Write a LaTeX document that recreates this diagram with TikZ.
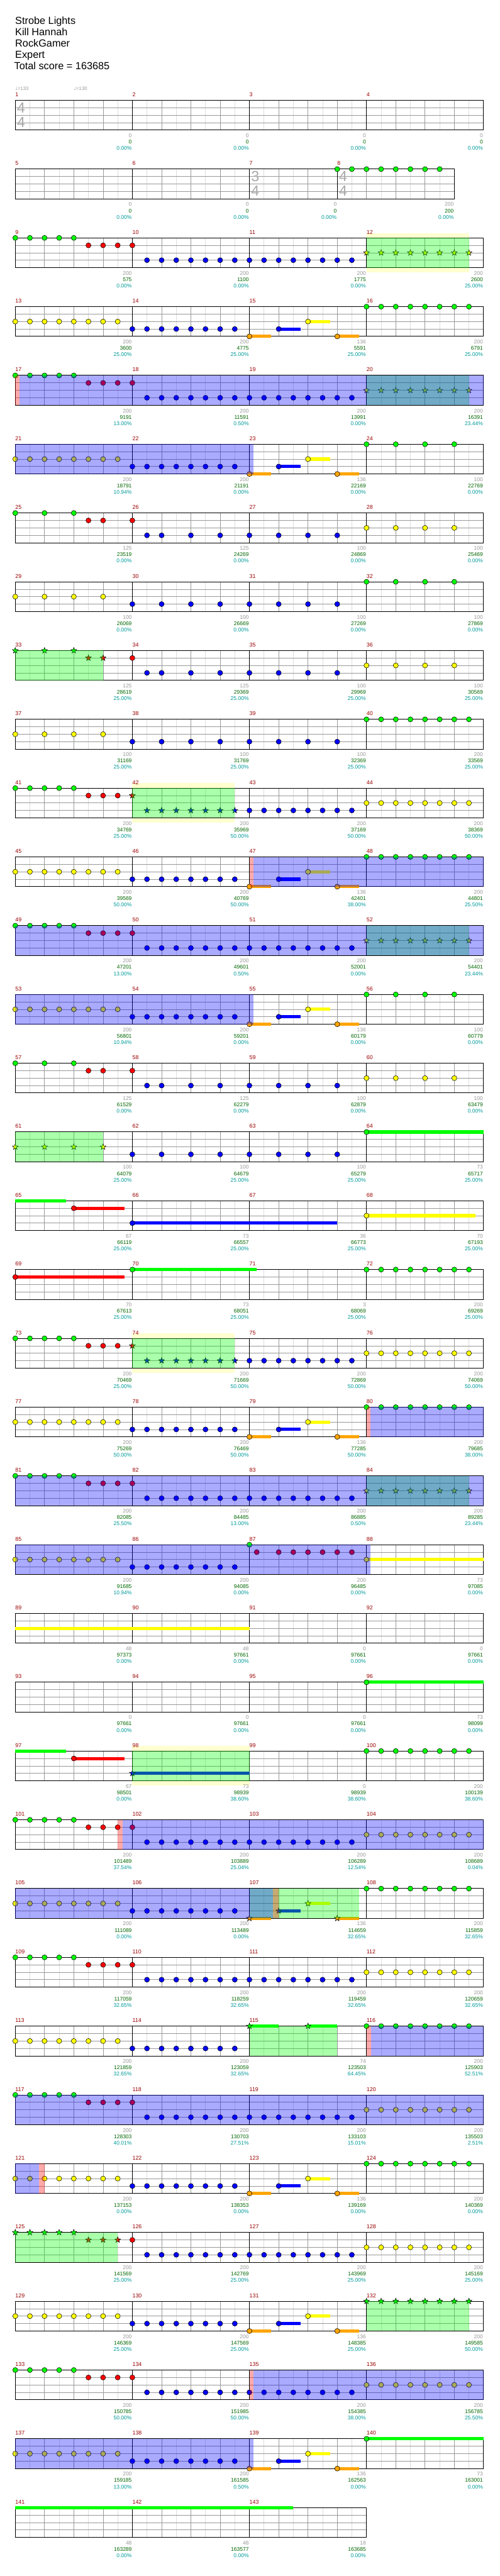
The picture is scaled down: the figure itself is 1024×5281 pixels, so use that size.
\documentclass[tikz,border=0pt]{standalone}
\usepackage{fontspec}
\setmainfont{Liberation Sans}
\newfontfamily\notefont{DejaVu Sans}
\usepackage{tikz}
\definecolor{lane0}{HTML}{00FF00}
\definecolor{lane1}{HTML}{FF0000}
\definecolor{lane2}{HTML}{FFFF00}
\definecolor{lane3}{HTML}{0000FF}
\definecolor{lane4}{HTML}{FFA500}
\definecolor{barred}{HTML}{990000}
\definecolor{ptgrey}{HTML}{999999}
\definecolor{scoregreen}{HTML}{006600}
\definecolor{pcteal}{HTML}{009999}
\definecolor{halfgrey}{HTML}{DDDDDD}
\definecolor{beatgrey}{HTML}{999999}
\definecolor{sigrey}{HTML}{AAAAAA}
\definecolor{haloyellow}{HTML}{FFFFD0}

% staff: beats, bar positions
\newcommand{\staff}[2]{%
  \fill[white] (0,0) rectangle ({60*#1},61);
  \foreach \i in {1,...,#1} \draw[halfline] ({60*\i-30},0) -- ++(0,61);
  \foreach \i in {1,...,#1} \draw[beatline] ({60*\i},0) -- ++(0,61);
  \foreach \j in {1,2,3} \draw[beatline] (0,{15.25*\j}) -- ({60*#1},{15.25*\j});
  \foreach \i in {#2} \draw[barline] ({60*\i},0) -- ++(0,61);
  \draw[staffframe] (0,0) rectangle ({60*#1},61);}
\newcommand{\mlabels}[2]{\foreach \b [count=\c] in {#2} {\pgfmathtruncatemacro\mm{#1+\c-1}\node[barno] (m\mm) at ({60*\b},-11.7) {\mm};}}
\newcommand{\stdrow}[1]{\staff{16}{4,8,12}\mlabels{#1}{0,4,8,12}}
% notes
\newcommand{\gem}[2]{\filldraw[gemline, fill=lane#1] ({60*#2},{15.25*#1}) circle[radius=5.2];}
\newcommand{\gems}[2]{\foreach \b in {#2} {\gem{#1}{\b}}}
\newcommand{\stargem}[2]{\filldraw[gemline, fill=lane#1, shift={({60*#2},{15.25*#1})}]
  (270:6.3) -- (306:2.6) -- (342:6.3) -- (18:2.6) -- (54:6.3) -- (90:2.6) -- (126:6.3) -- (162:2.6) -- (198:6.3) -- (234:2.6) -- cycle;}
\newcommand{\stars}[2]{\foreach \b in {#2} {\stargem{#1}{\b}}}
\newcommand{\tail}[3]{\draw[tailbar, lane#1] ({60*#2},{15.25*#1}) -- ({60*#3},{15.25*#1});}
% zones
\newcommand{\odzone}[2]{\fill[odfill] ({60*#1},0) rectangle ({60*#2},61);}
\newcommand{\spzone}[2]{\fill[spfill] ({60*#1},0) rectangle ({60*#2},61);}
\newcommand{\actzone}[2]{\fill[actfill] ({60*#1},0) rectangle ({60*#2},61);}
\newcommand{\halozone}[2]{\fill[halofill] ({60*#1},-10) rectangle ({60*#2},71);}
% scores under a bar
\newcommand{\scoreat}[5]{%
  \node[ptsnum] (pts#1) at ({60*#2-1},72.3) {#3};
  \node[totnum] (tot#1) at ({60*#2-1},85.3) {#4};
  \node[pctnum] (pct#1) at ({60*#2-1},98.3) {#5\%};}
\newcommand{\scores}[2]{\foreach \g/\s/\p [count=\c] in {#2} {\pgfmathtruncatemacro\mm{#1+\c-1}\scoreat{\mm}{4*\c}{\g}{\s}{\p}}}
% repeated riffs
\newcommand{\riffA}{\gems{0}{0,0.5,...,2}\gems{1}{2.5,3,3.5,4}\gems{3}{4.5,5,...,11.5}}
\newcommand{\riffB}{\gems{2}{0,0.5,...,3.5}\gems{3}{4,4.5,...,7.5}}
\newcommand{\riffC}{\tail{4}{8}{8.75}\gem{4}{8}\tail{3}{9}{9.75}\gem{3}{9}\tail{2}{10}{10.75}\gem{2}{10}\tail{4}{11}{11.75}\gem{4}{11}}
\newcommand{\riffCstar}{\tail{4}{8}{8.75}\stars{4}{8}\tail{3}{9}{9.75}\stars{3}{9}\tail{2}{10}{10.75}\stars{2}{10}\tail{4}{11}{11.75}\stars{4}{11}}
\newcommand{\riffD}{\gems{0}{0,0.5,...,2}\gems{1}{2.5,3,3.5}\stars{1}{4}\stars{3}{4.5,5,...,7.5}\gems{3}{8,8.5,...,11.5}\gems{2}{12,12.5,...,15.5}}
\newcommand{\riffE}{\gems{0}{0,1,2}\gems{1}{2.5,3,4}\gem{3}{4.5}\gems{3}{5,...,11}\gems{2}{12,...,15}}

\begin{document}
\begin{tikzpicture}[x=1pt, y=-1pt,
  chartrow/.style={shift={(31.3,{205.7+141*#1})}},
  halfline/.style={draw=halfgrey, line width=1pt},
  beatline/.style={draw=beatgrey, line width=1pt},
  barline/.style={draw=black, line width=1pt},
  staffframe/.style={draw=black, line width=1.3pt},
  gemline/.style={draw=black, line width=0.7pt},
  tailbar/.style={line width=6.5pt},
  odfill/.style={fill=lane3, fill opacity=0.333},
  spfill/.style={fill=lane0, fill opacity=0.333},
  actfill/.style={fill=lane1, fill opacity=0.333},
  halofill/.style={fill=haloyellow},
  barno/.style={font=\fontsize{11.5}{13}\selectfont, text=barred, anchor=west, inner sep=0pt},
  ptsnum/.style={font=\fontsize{11}{13}\selectfont, text=ptgrey, anchor=east, inner sep=0pt},
  totnum/.style={font=\fontsize{11}{13}\selectfont, text=scoregreen, anchor=east, inner sep=0pt},
  pctnum/.style={font=\fontsize{11}{13}\selectfont, text=pcteal, anchor=east, inner sep=0pt},
  tsig/.style={font=\fontsize{30}{32}\selectfont, text=sigrey, inner sep=0pt},
  tempo/.style={font=\fontsize{10}{12}\selectfont, text=ptgrey, anchor=base west, inner sep=0pt},
  titletext/.style={font=\fontsize{21}{23}\selectfont, anchor=base west, inner sep=0pt}
]
\fill[white] (0,0) rectangle (1024,5281);
\useasboundingbox (0,0) rectangle (1024,5281);

\node[titletext] (song) at (31,50) {Strobe Lights};
\node[titletext] (artist) at (31,73) {Kill Hannah};
\node[titletext] (charter) at (31,96) {RockGamer};
\node[titletext] (level) at (31,119) {Expert};
\node[titletext] (total) at (29,142) {Total score = 163685};

\begin{scope}[chartrow=0]
  \stdrow{1}
  \node[tsig] (sig1a) at (12,15) {4};
  \node[tsig] (sig1b) at (12,45) {4};
  \node[tempo] (bpm1) at (0,-20.2) {{\notefont ♩}=133};
  \node[tempo] (bpm2) at (120,-20.2) {{\notefont ♩}=130};
  \scores{1}{0/0/0.00,0/0/0.00,0/0/0.00,0/0/0.00}
\end{scope}

\begin{scope}[chartrow=1]
  \staff{15}{4,8,11}
  \mlabels{5}{0,4,8,11}
  \node[tsig] (sig7a) at (492,15) {3};
  \node[tsig] (sig7b) at (492,45) {4};
  \node[tsig] (sig8a) at (672,15) {4};
  \node[tsig] (sig8b) at (672,45) {4};
  \gems{0}{11,11.5,...,14.5}
  \scoreat{5}{4}{0}{0}{0.00}
  \scoreat{6}{8}{0}{0}{0.00}
  \scoreat{7}{11}{0}{0}{0.00}
  \scoreat{8}{15}{200}{200}{0.00}
\end{scope}

\begin{scope}[chartrow=2]
  \halozone{12}{15.5}
  \stdrow{9}
  \riffA \stars{2}{12,12.5,...,15.5}
  \spzone{12}{15.5}
  \scores{9}{200/575/0.00,200/1100/0.00,200/1775/0.00,200/2600/25.00}
\end{scope}

\begin{scope}[chartrow=3]
  \stdrow{13}
  \riffB \riffC \gems{0}{12,12.5,...,15.5}
  \scores{13}{200/3600/25.00,200/4775/25.00,136/5591/25.00,200/6791/25.00}
\end{scope}

\begin{scope}[chartrow=4]
  \stdrow{17}
  \riffA \stars{2}{12,12.5,...,15.5}
  \spzone{12}{15.5} \actzone{0}{0.145} \odzone{0.145}{16}
  \scores{17}{200/9191/13.00,200/11591/0.50,200/13991/0.00,200/16391/23.44}
\end{scope}

\begin{scope}[chartrow=5]
  \stdrow{21}
  \riffB \riffC \gems{0}{12,...,15}
  \odzone{0}{8.13}
  \scores{21}{200/18791/10.94,200/21191/0.00,136/22169/0.00,100/22769/0.00}
\end{scope}

\begin{scope}[chartrow=6]
  \stdrow{25}
  \riffE
  \scores{25}{125/23519/0.00,125/24269/0.00,100/24869/0.00,100/25469/0.00}
\end{scope}

\begin{scope}[chartrow=7]
  \stdrow{29}
  \gems{2}{0,...,3} \gems{3}{4,...,11} \gems{0}{12,...,15}
  \scores{29}{100/26069/0.00,100/26669/0.00,100/27269/0.00,100/27869/0.00}
\end{scope}

\begin{scope}[chartrow=8]
  \stdrow{33}
  \stars{0}{0,1,2} \stars{1}{2.5,3} \gem{1}{4} \gem{3}{4.5} \gems{3}{5,...,11} \gems{2}{12,...,15}
  \spzone{0}{3}
  \scores{33}{125/28619/25.00,125/29369/25.00,100/29969/25.00,100/30569/25.00}
\end{scope}

\begin{scope}[chartrow=9]
  \stdrow{37}
  \gems{2}{0,...,3} \gems{3}{4,...,11} \gems{0}{12,12.5,...,15.5}
  \scores{37}{100/31169/25.00,100/31769/25.00,100/32369/25.00,200/33569/25.00}
\end{scope}

\begin{scope}[chartrow=10]
  \halozone{4}{7.5}
  \stdrow{41}
  \riffD
  \spzone{4}{7.5}
  \scores{41}{200/34769/25.00,200/35969/50.00,200/37169/50.00,200/38369/50.00}
\end{scope}

\begin{scope}[chartrow=11]
  \stdrow{45}
  \riffB \riffC \gems{0}{12,12.5,...,15.5}
  \actzone{8}{8.145} \odzone{8.145}{16}
  \scores{45}{200/39569/50.00,200/40769/50.00,136/42401/38.00,200/44801/25.50}
\end{scope}

\begin{scope}[chartrow=12]
  \stdrow{49}
  \riffA \stars{2}{12,12.5,...,15.5}
  \spzone{12}{15.5} \odzone{0}{16}
  \scores{49}{200/47201/13.00,200/49601/0.50,200/52001/0.00,200/54401/23.44}
\end{scope}

\begin{scope}[chartrow=13]
  \stdrow{53}
  \riffB \riffC \gems{0}{12,...,15}
  \odzone{0}{8.145}
  \scores{53}{200/56801/10.94,200/59201/0.00,136/60179/0.00,100/60779/0.00}
\end{scope}

\begin{scope}[chartrow=14]
  \stdrow{57}
  \riffE
  \scores{57}{125/61529/0.00,125/62279/0.00,100/62879/0.00,100/63479/0.00}
\end{scope}

\begin{scope}[chartrow=15]
  \stdrow{61}
  \stars{2}{0,...,3} \gems{3}{4,...,11} \tail{0}{12}{16} \gem{0}{12}
  \spzone{0}{3}
  \scores{61}{100/64079/25.00,100/64679/25.00,100/65279/25.00,73/65717/25.00}
\end{scope}

\begin{scope}[chartrow=16]
  \stdrow{65}
  \tail{0}{0}{1.73} \tail{1}{2}{3.73} \gem{1}{2} \tail{3}{4}{11} \gem{3}{4} \tail{2}{12}{15.73} \gem{2}{12}
  \scores{65}{67/66119/25.00,73/66557/25.00,36/66773/25.00,70/67193/25.00}
\end{scope}

\begin{scope}[chartrow=17]
  \stdrow{69}
  \tail{1}{0}{3.73} \gem{1}{0} \tail{0}{4}{8.24} \gem{0}{4} \gems{0}{12,12.5,...,15.5}
  \scores{69}{70/67613/25.00,73/68051/25.00,3/68069/25.00,200/69269/25.00}
\end{scope}

\begin{scope}[chartrow=18]
  \halozone{4}{7.5}
  \stdrow{73}
  \riffD
  \spzone{4}{7.5}
  \scores{73}{200/70469/25.00,200/71669/50.00,200/72869/50.00,200/74069/50.00}
\end{scope}

\begin{scope}[chartrow=19]
  \stdrow{77}
  \riffB \riffC \gems{0}{12,12.5,...,15.5}
  \actzone{12}{12.14} \odzone{12.14}{16}
  \scores{77}{200/75269/50.00,200/76469/50.00,136/77285/50.00,200/79685/38.00}
\end{scope}

\begin{scope}[chartrow=20]
  \stdrow{81}
  \riffA \stars{2}{12,12.5,...,15.5}
  \spzone{12}{15.5} \odzone{0}{16}
  \scores{81}{200/82085/25.50,200/84485/13.00,200/86885/0.50,200/89285/23.44}
\end{scope}

\begin{scope}[chartrow=21]
  \stdrow{85}
  \riffB \gem{0}{8} \gem{1}{8.25} \gems{1}{9,9.5,...,11.5} \tail{2}{12}{16} \gem{2}{12}
  \odzone{0}{12.14}
  \scores{85}{200/91685/10.94,200/94085/0.00,200/96485/0.00,73/97085/0.00}
\end{scope}

\begin{scope}[chartrow=22]
  \stdrow{89}
  \tail{2}{0}{8}
  \scores{89}{48/97373/0.00,48/97661/0.00,0/97661/0.00,0/97661/0.00}
\end{scope}

\begin{scope}[chartrow=23]
  \stdrow{93}
  \tail{0}{12}{16} \gem{0}{12}
  \scores{93}{0/97661/0.00,0/97661/0.00,0/97661/0.00,73/98099/0.00}
\end{scope}

\begin{scope}[chartrow=24]
  \halozone{4}{8}
  \stdrow{97}
  \tail{0}{0}{1.73} \tail{1}{2}{3.73} \gem{1}{2} \tail{3}{4}{8} \stars{3}{4} \gems{0}{12,12.5,...,15.5}
  \spzone{4}{8}
  \scores{97}{67/98501/0.00,73/98939/38.60,0/98939/38.60,200/100139/38.60}
\end{scope}

\begin{scope}[chartrow=25]
  \stdrow{101}
  \riffA \gems{2}{12,12.5,...,15.5}
  \actzone{3.5}{3.66} \odzone{3.66}{16}
  \scores{101}{200/101489/37.54,200/103889/25.04,200/106289/12.54,200/108689/0.04}
\end{scope}

\begin{scope}[chartrow=26]
  \stdrow{105}
  \riffB \riffCstar \gems{0}{12,12.5,...,15.5}
  \spzone{8}{11.75} \actzone{8.81}{9} \odzone{0}{8.81}
  \scores{105}{200/111089/0.00,200/113489/0.00,136/114659/32.65,200/115859/32.65}
\end{scope}

\begin{scope}[chartrow=27]
  \stdrow{109}
  \riffA \gems{2}{12,12.5,...,15.5}
  \scores{109}{200/117059/32.65,200/118259/32.65,200/119459/32.65,200/120659/32.65}
\end{scope}

\begin{scope}[chartrow=28]
  \stdrow{113}
  \riffB \tail{0}{8}{9} \stars{0}{8} \tail{0}{10}{11} \stars{0}{10} \gems{0}{12,12.5,...,15.5}
  \spzone{8}{11} \actzone{12}{12.16} \odzone{12.16}{16}
  \scores{113}{200/121859/32.65,200/123059/32.65,74/123503/64.45,200/125903/52.51}
\end{scope}

\begin{scope}[chartrow=29]
  \stdrow{117}
  \riffA \gems{2}{12,12.5,...,15.5}
  \odzone{0}{16}
  \scores{117}{200/128303/40.01,200/130703/27.51,200/133103/15.01,200/135503/2.51}
\end{scope}

\begin{scope}[chartrow=30]
  \stdrow{121}
  \riffB \riffC \gems{0}{12,12.5,...,15.5}
  \odzone{0}{0.8} \actzone{0.8}{1}
  \scores{121}{200/137153/0.00,200/138353/0.00,136/139169/0.00,200/140369/0.00}
\end{scope}

\begin{scope}[chartrow=31]
  \stdrow{125}
  \stars{0}{0,0.5,...,2} \stars{1}{2.5,3,3.5} \gem{1}{4} \gems{3}{4.5,5,...,11.5} \gems{2}{12,12.5,...,15.5}
  \spzone{0}{3.5}
  \scores{125}{200/141569/25.00,200/142769/25.00,200/143969/25.00,200/145169/25.00}
\end{scope}

\begin{scope}[chartrow=32]
  \stdrow{129}
  \riffB \riffC \stars{0}{12,12.5,...,15.5}
  \spzone{12}{15.5}
  \scores{129}{200/146369/25.00,200/147569/25.00,136/148385/25.00,200/149585/50.00}
\end{scope}

\begin{scope}[chartrow=33]
  \stdrow{133}
  \riffA \gems{2}{12,12.5,...,15.5}
  \actzone{8}{8.145} \odzone{8.145}{16}
  \scores{133}{200/150785/50.00,200/151985/50.00,200/154385/38.00,200/156785/25.50}
\end{scope}

\begin{scope}[chartrow=34]
  \stdrow{137}
  \riffB \riffC \tail{0}{12}{16} \gem{0}{12}
  \odzone{0}{8.145}
  \scores{137}{200/159185/13.00,200/161585/0.50,136/162563/0.00,73/163001/0.00}
\end{scope}

\begin{scope}[chartrow=35]
  \staff{12}{4,8}
  \mlabels{141}{0,4,8}
  \tail{0}{0}{9.5}
  \scores{141}{48/163289/0.00,48/163577/0.00,18/163685/0.00}
\end{scope}
\end{tikzpicture}
\end{document}
